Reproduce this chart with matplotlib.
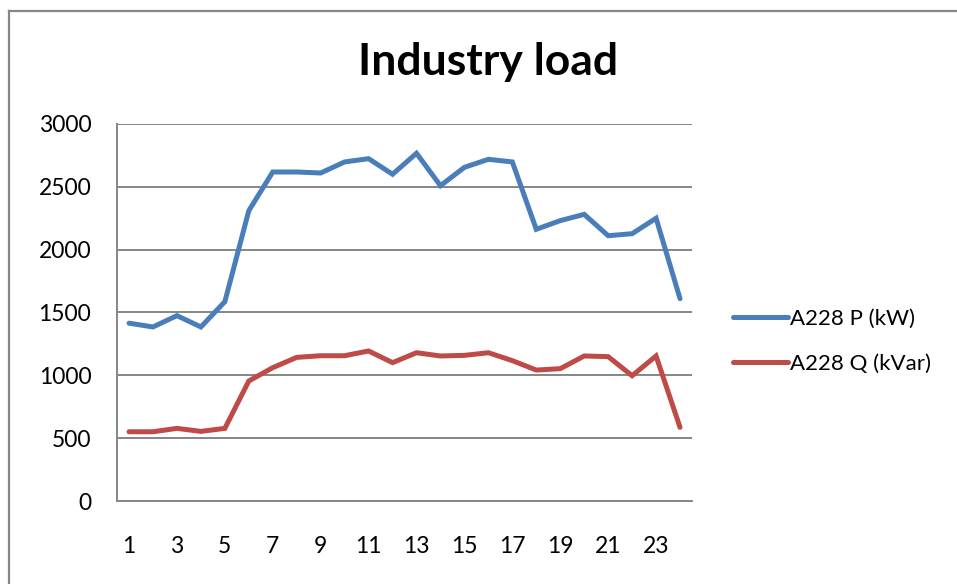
import numpy as np
import matplotlib
matplotlib.use("Agg")
import matplotlib.pyplot as plt
from matplotlib.lines import Line2D

# hourly load of the A228 feeder
hours = np.arange(1, 25)
p_kw = [1415, 1385, 1475, 1385, 1586, 2310, 2618, 2618, 2610, 2698, 2724, 2600,
        2767, 2509, 2655, 2719, 2698, 2162, 2231, 2281, 2111, 2127, 2250, 1610]
q_kvar = [551, 551, 578, 554, 578, 955, 1061, 1143, 1156, 1156, 1194, 1101,
          1180, 1154, 1159, 1180, 1117, 1042, 1053, 1154, 1149, 997, 1154, 586]
y_ticks = [0, 500, 1000, 1500, 2000, 2500, 3000]
x_labels = [str(h) for h in hours[::2]]

plt.rcParams['font.family'] = ['Lato', 'DejaVu Sans']

fig = plt.figure(figsize=(9.57, 5.84), dpi=100)
ax = fig.add_axes([0.1223, 0.1421, 0.6008, 0.6456])

ax.plot(hours, p_kw, color='#4A7EBB', lw=3.6, solid_capstyle='round',
        solid_joinstyle='miter', label='A228 P (kW)')
ax.plot(hours, q_kvar, color='#BE4B48', lw=3.6, solid_capstyle='round',
        solid_joinstyle='miter', label='A228 Q (kVar)')

ax.set_xlim(0.5, 24.5)
ax.set_ylim(0, 3000)
ax.set_yticks(y_ticks)
ax.set_xticks(hours[::2])
ax.set_xticklabels(x_labels)
ax.tick_params(axis='both', length=0, labelsize=16.5)
ax.tick_params(axis='y', pad=18.5)
ax.tick_params(axis='x', pad=25)
ax.yaxis.grid(True, color='#868686', lw=1.4)
ax.set_axisbelow(True)
for side in ['top', 'right']:
    ax.spines[side].set_visible(False)
for side in ['left', 'bottom']:
    ax.spines[side].set_color('#868686')
    ax.spines[side].set_linewidth(1.4)

fig.text(0.51, 0.894, 'Industry load', ha='center', va='center',
         fontsize=32, fontweight='bold')

ax.legend(loc='center left', bbox_to_anchor=(1.037, 0.424), frameon=False,
          fontsize=16, handlelength=2.45, handletextpad=0.1, labelspacing=1.15)

# outer chart frame (left and top edges)
fig.add_artist(Line2D([0.0094, 0.0094], [0, 0.981], color='#868686', lw=1.6))
fig.add_artist(Line2D([0.0094, 1.0], [0.981, 0.981], color='#868686', lw=1.6))

fig.savefig('out.png', dpi=100)
